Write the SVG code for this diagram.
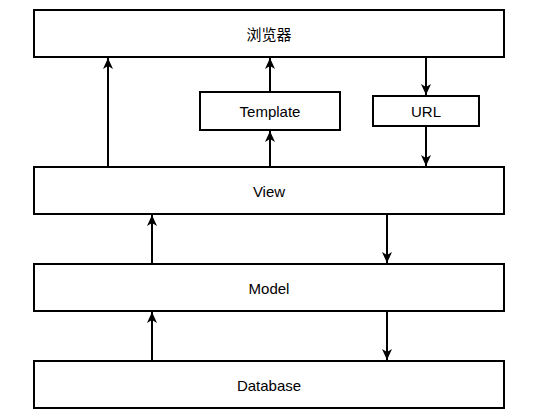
<svg xmlns="http://www.w3.org/2000/svg" width="542" height="420" viewBox="0 0 542 420">
<style>
.box{fill:#fff;stroke:#000;stroke-width:2}
.lbl{font-family:"Liberation Sans","Noto Sans CJK SC",Arial,sans-serif;font-size:15px;fill:#000;text-anchor:middle;dominant-baseline:central}
.edge{stroke:#000;stroke-width:2;fill:none;marker-end:url(#arr)}
</style>
<defs>
<marker id="arr" markerUnits="userSpaceOnUse" markerWidth="12" markerHeight="12" viewBox="0 0 12 12" refX="11" refY="6" orient="auto">
<path d="M0,1 L11,6 L0,11 L3,6 Z" fill="#000"/>
</marker>
</defs>
<rect width="542" height="420" fill="#fff"/>
<g id="connectors">
<line class="edge" x1="108" y1="166" x2="108" y2="58"/>
<line class="edge" x1="270" y1="91" x2="270" y2="58"/>
<line class="edge" x1="270" y1="166" x2="270" y2="131"/>
<line class="edge" x1="426" y1="58" x2="426" y2="95"/>
<line class="edge" x1="426" y1="127" x2="426" y2="166"/>
<line class="edge" x1="152" y1="263" x2="152" y2="215"/>
<line class="edge" x1="387" y1="215" x2="387" y2="263"/>
<line class="edge" x1="152" y1="360" x2="152" y2="312"/>
<line class="edge" x1="387" y1="312" x2="387" y2="360"/>
</g>
<g id="browser"><rect class="box" x="34" y="10" width="470" height="47"/><text class="lbl" x="269" y="34">浏览器</text></g>
<g id="template"><rect class="box" x="200" y="92" width="140" height="38"/><text class="lbl" x="270" y="111">Template</text></g>
<g id="url"><rect class="box" x="373" y="96" width="106" height="30"/><text class="lbl" x="426" y="111">URL</text></g>
<g id="view"><rect class="box" x="34" y="167" width="470" height="47"/><text class="lbl" x="269" y="191">View</text></g>
<g id="model"><rect class="box" x="34" y="264" width="470" height="47"/><text class="lbl" x="269" y="288">Model</text></g>
<g id="database"><rect class="box" x="34" y="361" width="470" height="47"/><text class="lbl" x="269" y="385">Database</text></g>
</svg>
